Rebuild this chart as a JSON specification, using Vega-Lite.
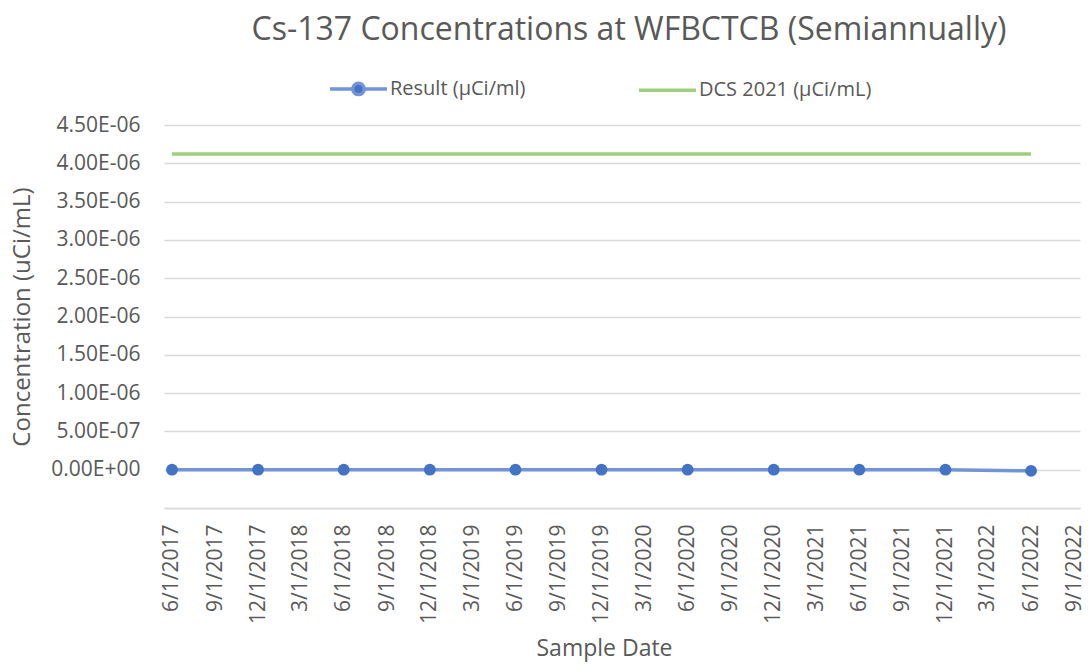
{
  "$schema": "https://vega.github.io/schema/vega-lite/v6.json",
  "autosize": "none",
  "width": 916,
  "height": 383,
  "padding": {"left": 164, "top": 125, "right": 8, "bottom": 162},
  "background": "white",
  "config": {
    "font": "Open Sans",
    "view": {"stroke": null}
  },
  "title": {
    "text": "Cs-137 Concentrations at WFBCTCB (Semiannually)",
    "font": "Open Sans",
    "fontSize": 32,
    "fontWeight": "normal",
    "color": "#595959",
    "anchor": "middle",
    "offset": 11,
    "dx": 7
  },
  "data": {
    "values": [
      {"date": "2017/06/01", "series": "Result (µCi/ml)", "value": 0},
      {"date": "2017/12/01", "series": "Result (µCi/ml)", "value": 0},
      {"date": "2018/06/01", "series": "Result (µCi/ml)", "value": 0},
      {"date": "2018/12/01", "series": "Result (µCi/ml)", "value": 0},
      {"date": "2019/06/01", "series": "Result (µCi/ml)", "value": 0},
      {"date": "2019/12/01", "series": "Result (µCi/ml)", "value": 0},
      {"date": "2020/06/01", "series": "Result (µCi/ml)", "value": 0},
      {"date": "2020/12/01", "series": "Result (µCi/ml)", "value": 0},
      {"date": "2021/06/01", "series": "Result (µCi/ml)", "value": 0},
      {"date": "2021/12/01", "series": "Result (µCi/ml)", "value": 0},
      {"date": "2022/06/01", "series": "Result (µCi/ml)", "value": -1.5e-8},
      {"date": "2017/06/01", "series": "DCS 2021 (µCi/mL)", "value": 4.12e-6},
      {"date": "2017/12/01", "series": "DCS 2021 (µCi/mL)", "value": 4.12e-6},
      {"date": "2018/06/01", "series": "DCS 2021 (µCi/mL)", "value": 4.12e-6},
      {"date": "2018/12/01", "series": "DCS 2021 (µCi/mL)", "value": 4.12e-6},
      {"date": "2019/06/01", "series": "DCS 2021 (µCi/mL)", "value": 4.12e-6},
      {"date": "2019/12/01", "series": "DCS 2021 (µCi/mL)", "value": 4.12e-6},
      {"date": "2020/06/01", "series": "DCS 2021 (µCi/mL)", "value": 4.12e-6},
      {"date": "2020/12/01", "series": "DCS 2021 (µCi/mL)", "value": 4.12e-6},
      {"date": "2021/06/01", "series": "DCS 2021 (µCi/mL)", "value": 4.12e-6},
      {"date": "2021/12/01", "series": "DCS 2021 (µCi/mL)", "value": 4.12e-6},
      {"date": "2022/06/01", "series": "DCS 2021 (µCi/mL)", "value": 4.12e-6}
    ]
  },
  "encoding": {
    "x": {
      "field": "date",
      "type": "temporal",
      "title": "Sample Date",
      "scale": {
        "domain": [
          {"year": 2017, "month": 5, "date": 15},
          {"year": 2022, "month": 9, "date": 13}
        ]
      },
      "axis": {
        "values": [
          {"year": 2017, "month": 6, "date": 1},
          {"year": 2017, "month": 9, "date": 1},
          {"year": 2017, "month": 12, "date": 1},
          {"year": 2018, "month": 3, "date": 1},
          {"year": 2018, "month": 6, "date": 1},
          {"year": 2018, "month": 9, "date": 1},
          {"year": 2018, "month": 12, "date": 1},
          {"year": 2019, "month": 3, "date": 1},
          {"year": 2019, "month": 6, "date": 1},
          {"year": 2019, "month": 9, "date": 1},
          {"year": 2019, "month": 12, "date": 1},
          {"year": 2020, "month": 3, "date": 1},
          {"year": 2020, "month": 6, "date": 1},
          {"year": 2020, "month": 9, "date": 1},
          {"year": 2020, "month": 12, "date": 1},
          {"year": 2021, "month": 3, "date": 1},
          {"year": 2021, "month": 6, "date": 1},
          {"year": 2021, "month": 9, "date": 1},
          {"year": 2021, "month": 12, "date": 1},
          {"year": 2022, "month": 3, "date": 1},
          {"year": 2022, "month": 6, "date": 1},
          {"year": 2022, "month": 9, "date": 1}
        ],
        "format": "%-m/%-d/%Y",
        "labelAngle": -90,
        "labelAlign": "right",
        "labelBaseline": "middle",
        "labelFontSize": 21,
        "labelColor": "#595959",
        "labelPadding": 16,
        "labelOverlap": false,
        "labelFlush": false,
        "ticks": false,
        "grid": false,
        "domain": true,
        "domainColor": "#d9d9d9",
        "domainWidth": 1.5,
        "titleFontSize": 23,
        "titleFontWeight": "normal",
        "titleColor": "#595959",
        "titlePadding": 14,
        "titleX": 440,
        "titleAlign": "center"
      }
    },
    "y": {
      "field": "value",
      "type": "quantitative",
      "title": "Concentration (uCi/mL)",
      "scale": {"domain": [-5e-7, 4.5e-6], "nice": false, "zero": false},
      "axis": {
        "values": [-5e-7, 0, 5e-7, 1e-6, 1.5e-6, 2e-6, 2.5e-6, 3e-6, 3.5e-6, 4e-6, 4.5e-6],
        "labelExpr": "datum.value < 0 ? '' : replace(replace(format(datum.value, '.2e'), 'e-', 'E-0'), 'e+', 'E+0')",
        "labelFontSize": 21,
        "labelColor": "#595959",
        "labelPadding": 24,
        "ticks": false,
        "domain": false,
        "grid": true,
        "gridColor": "#d9d9d9",
        "gridWidth": 1.5,
        "titleFontSize": 24,
        "titleFontWeight": "normal",
        "titleColor": "#595959",
        "titlePadding": 16
      }
    }
  },
  "layer": [
    {
      "mark": {"type": "line", "strokeWidth": 3.5},
      "encoding": {
        "color": {
          "field": "series",
          "type": "nominal",
          "scale": {
            "domain": ["Result (µCi/ml)", "DCS 2021 (µCi/mL)"],
            "range": ["#7394d6", "#9fcf7a"]
          },
          "legend": {
            "title": null,
            "orient": "none",
            "direction": "horizontal",
            "legendX": 164,
            "legendY": -67,
            "padding": 0,
            "symbolType": "M-1,0L1,0",
            "symbolSize": 3249,
            "symbolStrokeWidth": 3.5,
            "labelFontSize": 20,
            "labelLimit": 400,
            "labelColor": "#595959",
            "labelOffset": 1,
            "columnPadding": 106,
            "encode": {
              "symbols": {
                "update": {
                  "shape": {"signal": "datum.value === 'Result (µCi/ml)' ? 'M-1,0L-0.2,0M0.2,0L1,0M-0.2,0A0.2,0.2,0,1,1,0.2,0A0.2,0.2,0,1,1,-0.2,0Z' : 'M-1,0L1,0'"},
                  "fill": {"signal": "datum.value === 'Result (µCi/ml)' ? '#4472c4' : 'transparent'"}
                }
              }
            }
          }
        }
      }
    },
    {
      "transform": [{"filter": "datum.series === 'Result (µCi/ml)'"}],
      "mark": {"type": "point", "filled": true, "size": 140, "opacity": 1, "color": "#4472c4"},
      "encoding": {}
    }
  ]
}
